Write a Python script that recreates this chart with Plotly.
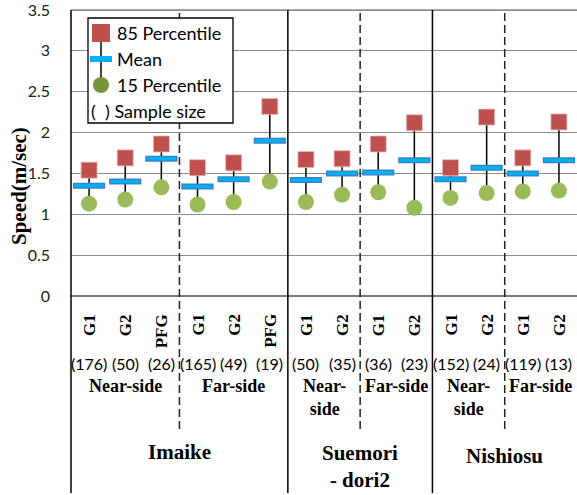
import plotly.graph_objects as go

# ---- data ----
sites = ["Imaike", "Suemori<br>- dori2", "Nishiosu"]
subgroups = [["Near-side", "Far-side"], ["Near-<br>side", "Far-side"], ["Near-<br>side", "Far-side"]]
groups = [[["G1", "G2", "PFG"], ["G1", "G2", "PFG"]],
          [["G1", "G2"], ["G1", "G2"]],
          [["G1", "G2"], ["G1", "G2"]]]
samples = [176, 50, 26, 165, 49, 19, 50, 35, 36, 23, 152, 24, 119, 13]
p85 = [1.54, 1.69, 1.86, 1.57, 1.63, 2.32, 1.67, 1.68, 1.86, 2.12, 1.57, 2.19, 1.69, 2.13]
mean = [1.35, 1.40, 1.68, 1.34, 1.43, 1.90, 1.42, 1.50, 1.51, 1.66, 1.43, 1.57, 1.50, 1.66]
p15 = [1.13, 1.18, 1.33, 1.12, 1.15, 1.40, 1.15, 1.24, 1.27, 1.08, 1.20, 1.26, 1.28, 1.29]
y_ticks = [0, 0.5, 1, 1.5, 2, 2.5, 3, 3.5]

cats = [g for site in groups for sub in site for g in sub]
n = len(cats)
xs = list(range(n))

W, H = 577, 495
PLOT_LEFT, PLOT_TOP, PLOT_BOTTOM = 71, 8, 296   # page pixels
L, T, R = PLOT_LEFT, PLOT_TOP, 0
B = H - PLOT_BOTTOM
PW, PH = W - L - R, H - T - B
TOP_TICK_PX = 10                       # pixel row where the last tick (3.5) sits
y_max = y_ticks[-1] * PH / (PLOT_BOTTOM - TOP_TICK_PX)

def px2x(px):  # pixels -> paper
    return (px - PLOT_LEFT) / PW

def py2y(py):
    return (PLOT_BOTTOM - py) / PH

SERIF = "Liberation Serif"
SANS = "Lato"
GRID = "#8C8C8C"

fig = go.Figure()

# high-low lines
lx, ly = [], []
for i in xs:
    lx += [i, i, None]
    ly += [p85[i], p15[i], None]
fig.add_trace(go.Scatter(x=lx, y=ly, mode="lines", line=dict(color="black", width=1.5),
                         hoverinfo="skip", showlegend=False))
fig.add_trace(go.Scatter(x=xs, y=p85, mode="markers", name="85 Percentile",
                         marker=dict(symbol="square", size=16, color="#C0504D",
                                     line=dict(color="#E6B9B8", width=0.8)), showlegend=False))
fig.add_trace(go.Scatter(x=xs, y=mean, mode="markers", name="Mean",
                         marker=dict(symbol="line-ew", size=23, line=dict(color="#3C7FC0", width=6)),
                         showlegend=False))
fig.add_trace(go.Scatter(x=xs, y=mean, mode="markers", name="Mean",
                         marker=dict(symbol="line-ew", size=21, line=dict(color="#00B0F0", width=3.5)),
                         showlegend=False))
fig.add_trace(go.Scatter(x=xs, y=p15, mode="markers", name="15 Percentile",
                         marker=dict(symbol="circle", size=16, color="#9BBB59", line=dict(width=0)),
                         showlegend=False))

shapes = []
annotations = []
top_y = py2y(TOP_TICK_PX)

# top gridline (at the last tick) drawn explicitly
shapes.append(dict(type="line", xref="paper", yref="y", x0=0, x1=1, y0=y_ticks[-1], y1=y_ticks[-1],
                   line=dict(color=GRID, width=1.3), layer="below"))

# y axis line extended down
shapes.append(dict(type="line", xref="paper", yref="paper", x0=0, x1=0,
                   y0=py2y(493), y1=top_y, line=dict(color="black", width=1.5)))

# separators, labels
k = 0
for s, site in enumerate(groups):
    site_start = k
    for j, sub in enumerate(site):
        sub_start = k
        for g in sub:
            annotations.append(dict(x=k, y=py2y(313), xref="x", yref="paper", text="<b>%s</b>" % g,
                                    textangle=-90, showarrow=False, yanchor="top", xanchor="center",
                                    borderpad=0, font=dict(family=SERIF, size=17, color="black")))
            annotations.append(dict(x=k, y=py2y(363), xref="x", yref="paper", text="(%d)" % samples[k],
                                    showarrow=False, yanchor="middle", xanchor="center", borderpad=0,
                                    font=dict(family=SANS, size=16, color="black")))
            k += 1
        annotations.append(dict(x=(sub_start + k - 1) / 2, y=py2y(375), xref="x", yref="paper",
                                text="<b>%s</b>" % subgroups[s][j], showarrow=False, yanchor="top",
                                xanchor="center", borderpad=0,
                                font=dict(family=SERIF, size=18, color="black")))
        if j < len(site) - 1:
            shapes.append(dict(type="line", xref="paper", yref="paper", x0=k / n, x1=k / n,
                               y0=py2y(429), y1=top_y, line=dict(color="#222", width=1.5, dash="8px,4px")))
    if s < len(groups) - 1:
        shapes.append(dict(type="line", xref="paper", yref="paper", x0=k / n, x1=k / n,
                           y0=py2y(493), y1=top_y, line=dict(color="black", width=1.5)))
    site_y = {0: 452, 1: 466, 2: 456}[s]
    annotations.append(dict(x=(site_start + k - 1) / 2, y=py2y(site_y), xref="x", yref="paper",
                            text="<b>%s</b>" % sites[s], showarrow=False, yanchor="middle",
                            xanchor="center", borderpad=0,
                            font=dict(family=SERIF, size=21, color="black")))

# y title
annotations.append(dict(x=px2x(19), y=py2y(186), xref="paper", yref="paper",
                        text="<b>Speed(m/sec)</b>", textangle=-90, showarrow=False,
                        xanchor="center", yanchor="middle", borderpad=0,
                        font=dict(family=SERIF, size=21, color="black")))

# custom legend
shapes.append(dict(type="rect", xref="paper", yref="paper", x0=px2x(88), x1=px2x(233),
                   y0=py2y(123), y1=py2y(18), fillcolor="white", line=dict(color="black", width=1.3)))
shapes.append(dict(type="line", xref="paper", yref="paper", x0=px2x(101), x1=px2x(101),
                   y0=py2y(85), y1=py2y(33), line=dict(color="black", width=1.5)))
shapes.append(dict(type="rect", xref="paper", yref="paper", xsizemode="pixel", ysizemode="pixel",
                   xanchor=px2x(101), yanchor=py2y(33), x0=-9, x1=9, y0=-9, y1=9,
                   fillcolor="#C0504D", line=dict(width=0)))
shapes.append(dict(type="rect", xref="paper", yref="paper", xsizemode="pixel", ysizemode="pixel",
                   xanchor=px2x(101), yanchor=py2y(59), x0=-11, x1=11, y0=-3, y1=3,
                   fillcolor="#00B0F0", line=dict(width=0)))
shapes.append(dict(type="circle", xref="paper", yref="paper", xsizemode="pixel", ysizemode="pixel",
                   xanchor=px2x(101), yanchor=py2y(85), x0=-8, x1=8, y0=-8, y1=8,
                   fillcolor="#77933C", line=dict(width=0)))
legend_items = [("85 Percentile", 116, 33), ("Mean", 116, 59), ("15 Percentile", 116, 85),
                ("(&nbsp;&nbsp;) Sample size", 90, 111)]
for txt, lxp, lyp in legend_items:
    annotations.append(dict(x=px2x(lxp), y=py2y(lyp), xref="paper", yref="paper", text=txt,
                            showarrow=False, xanchor="left", yanchor="middle", borderpad=0,
                            font=dict(family=SANS, size=18, color="black")))

fig.update_layout(
    width=W, height=H, margin=dict(l=L, r=R, t=T, b=B, pad=0, autoexpand=False),
    paper_bgcolor="white", plot_bgcolor="white", showlegend=False, hovermode=False,
    xaxis=dict(range=[-0.5, n - 0.5], showticklabels=False, showgrid=False, zeroline=False,
               showline=False, fixedrange=True, automargin=False),
    yaxis=dict(range=[0, y_max], tickvals=y_ticks, showgrid=True, gridcolor=GRID, gridwidth=1.3,
               zeroline=True, zerolinecolor="#7A7A7A", zerolinewidth=2, showline=False,
               ticks="", ticklabelstandoff=20, ticklabeloverflow="allow", automargin=False,
               fixedrange=True, tickfont=dict(family=SANS, size=16, color="#222")),
    shapes=shapes, annotations=annotations,
)

# remove the default 8px body margin so the figure sits at the page's top-left corner
fig.write_html("out.html", config={"displayModeBar": False},
               post_script="document.body.style.margin='0';")
